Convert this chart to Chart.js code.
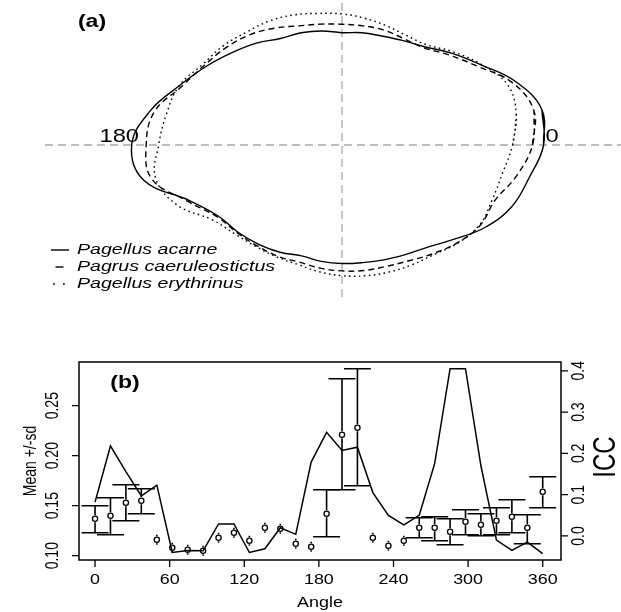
<!DOCTYPE html>
<html>
<head>
<meta charset="utf-8">
<script src="https://cdn.jsdelivr.net/npm/chart.js@4.4.1/dist/chart.umd.min.js"></script>
<style>
    html, body { margin: 0; padding: 0; background: #fff; width: 621px; height: 612px; overflow: hidden; }
    #painelA { position: absolute; left: 0; top: 0; width: 621px; height: 305px; }
    #painelB { position: absolute; left: 0; top: 305px; width: 621px; height: 307px; }
</style>
</head>
<body>
<div id="painelA"><canvas id="graficoContorno" width="621" height="305"></canvas></div>
<div id="painelB"><canvas id="graficoICC" width="621" height="307"></canvas></div>
<script>
// Painel (a) - contornos medios (raio por angulo)
const angulosContorno = [0, 10, 20, 30, 40, 50, 60, 70, 80, 90, 100, 110, 120, 130, 140, 150, 160, 170,
    180, 190, 200, 210, 220, 230, 240, 250, 260, 270, 280, 290, 300, 310, 320, 330, 340, 350];
const raioAcarne = [201.6, 203, 185, 160.4, 142.9, 128.3, 120.8, 116, 114, 112.3, 115.8, 119.4, 123, 132.9,
    143.6, 157, 173.2, 195, 210.3, 201.6, 162.4, 142.5, 135.7, 129.6, 123.8, 118, 118.2, 118.5, 119.4, 122.2,
    126.5, 133.4, 146.5, 165, 180.6, 189.9];
const raioCaeruleostictus = [190.5, 195, 181.6, 157, 140, 127, 123, 122.3, 121, 120.7, 122.7, 126.8, 134.9,
    143.8, 151.4, 159.1, 170.8, 190.6, 195.8, 193.4, 164.4, 144, 136.7, 131.8, 128.4, 124.7, 125, 125.9, 127.4,
    129.2, 133.7, 141.8, 151.5, 159.9, 162.6, 177.3];
const raioErythrinus = [170.6, 177, 176.2, 161, 145, 131, 127, 127.3, 128.8, 131, 133.6, 138.5, 143.5, 147.7,
    154.6, 161, 173.2, 178.3, 183.3, 189.3, 175.5, 149.7, 139, 133, 129.5, 127.4, 128.8, 130.7, 132.8, 135.4,
    138.6, 143, 152, 159.1, 159.9, 162.9];
const especies = ['Pagellus acarne', 'Pagrus caeruleostictus', 'Pagellus erythrinus'];

// Painel (b) - media +/- dp e ICC por angulo
const angulos = [0, 12.4, 24.8, 37.2, 49.7, 62.1, 74.5, 86.9, 99.3, 111.7, 124.1, 136.6, 149, 161.4, 173.8,
    186.2, 198.6, 211, 223.4, 235.9, 248.3, 260.7, 273.1, 285.5, 297.9, 310.3, 322.8, 335.2, 347.6, 360];
const media = [0.137, 0.140, 0.153, 0.155, 0.116, 0.108, 0.106, 0.105, 0.118, 0.123, 0.115, 0.128, 0.127,
    0.112, 0.109, 0.142, 0.221, 0.228, 0.118, 0.110, 0.115, 0.128, 0.128, 0.124, 0.134, 0.131, 0.135, 0.139,
    0.128, 0.164];
const limiteSup = [0.150, 0.158, 0.171, 0.167, 0.121, 0.113, 0.111, 0.110, 0.123, 0.128, 0.120, 0.133, 0.132,
    0.117, 0.114, 0.166, 0.277, 0.287, 0.123, 0.115, 0.120, 0.138, 0.139, 0.137, 0.146, 0.142, 0.148, 0.156,
    0.141, 0.179];
const limiteInf = [0.123, 0.121, 0.135, 0.142, 0.111, 0.103, 0.101, 0.100, 0.113, 0.118, 0.110, 0.123, 0.122,
    0.107, 0.104, 0.119, 0.166, 0.170, 0.113, 0.105, 0.110, 0.118, 0.115, 0.111, 0.121, 0.120, 0.121, 0.123,
    0.112, 0.148];
const icc = [0.082, 0.218, 0.156, 0.097, 0.123, -0.040, -0.035, -0.036, 0.029, 0.029, -0.040, -0.031, 0.020,
    0.004, 0.179, 0.251, 0.207, 0.215, 0.105, 0.050, 0.027, 0.050, 0.175, 0.405, 0.405, 0.170, -0.010, -0.035,
    -0.015, -0.043];
const ticksAngulo = [0, 60, 120, 180, 240, 300, 360];
const ticksMedia = [0.10, 0.15, 0.20, 0.25];
const ticksICC = [0.0, 0.1, 0.2, 0.3, 0.4];

const SX = 1.28; // esticamento horizontal do texto
const FONTE = '"Liberation Sans", Arial, sans-serif';

// Escrever texto (com rotacao opcional)
function escrever(ctx, texto, x, y, fonte, alinhamento, rotacao) {
    ctx.save();
    ctx.translate(x, y);
    ctx.scale(SX, 1);
    if (rotacao) ctx.rotate(rotacao);
    ctx.font = fonte;
    ctx.fillStyle = '#000';
    ctx.textAlign = alinhamento || 'center';
    ctx.textBaseline = 'middle';
    ctx.fillText(texto, 0, 0);
    ctx.restore();
}

function contorno(raios) {
    const pts = angulosContorno.map((a, i) => ({
        x: raios[i] * Math.cos(a * Math.PI / 180),
        y: raios[i] * Math.sin(a * Math.PI / 180)
    }));
    pts.push(pts[0], pts[1]);
    return pts;
}

const estilos = [
    { dash: [], legenda: [], x1: 51, x2: 69 },
    { dash: [6, 4], legenda: [8, 30], x1: 55.5, x2: 63.5 },
    { dash: [1.6, 3.4], legenda: [1.8, 8.2], x1: 53, x2: 66 }
];

// Plugin do painel (a)
const pluginContorno = {
    id: 'pluginContorno',
    beforeDatasetsDraw(chart) {
        const { ctx, scales: { x, y } } = chart;
        const x0 = x.getPixelForValue(0);
        const y0 = y.getPixelForValue(0);
        ctx.save();
        ctx.strokeStyle = '#a8a8a8';
        ctx.lineWidth = 1.3;
        ctx.setLineDash([8, 5]);
        ctx.beginPath();
        ctx.moveTo(x.getPixelForValue(-297), y0);
        ctx.lineTo(x.right, y0);
        ctx.moveTo(x0, y.getPixelForValue(142));
        ctx.lineTo(x0, y.getPixelForValue(-153));
        ctx.stroke();
        ctx.restore();
        escrever(ctx, '180', x.getPixelForValue(-203), y0 - 8, '18.5px ' + FONTE, 'right');
        escrever(ctx, '0', x.getPixelForValue(203.5), y0 - 8, '18.5px ' + FONTE, 'left');
    },
    afterDatasetsDraw(chart) {
        const ctx = chart.ctx;
        escrever(ctx, '(a)', 92, 22.5, 'bold 18px ' + FONTE, 'center');
        especies.forEach((nome, i) => {
            const yy = 250 + i * 17;
            const e = estilos[i];
            ctx.save();
            ctx.strokeStyle = '#000';
            ctx.lineWidth = 1.4;
            ctx.setLineDash(e.legenda);
            ctx.beginPath();
            ctx.moveTo(e.x1, yy);
            ctx.lineTo(e.x2, yy);
            ctx.stroke();
            ctx.restore();
            escrever(ctx, nome, 77, yy, 'italic 15.3px ' + FONTE, 'left');
        });
    }
};

// Plugin do painel (b): caixa, eixos, barras de erro
const pluginEixos = {
    id: 'pluginEixos',
    afterDatasetsDraw(chart) {
        const { ctx, chartArea: area, scales: { x, y, y2 } } = chart;
        ctx.save();
        ctx.strokeStyle = '#000';
        ctx.lineWidth = 1.6;
        // barras de erro
        const gap = 3.5;
        angulos.forEach((a, i) => {
            const px = x.getPixelForValue(a);
            const pm = y.getPixelForValue(media[i]);
            const ps = y.getPixelForValue(limiteSup[i]);
            const pi = y.getPixelForValue(limiteInf[i]);
            ctx.beginPath();
            if (pm - ps > gap) { ctx.moveTo(px, ps); ctx.lineTo(px, pm - gap); }
            if (pi - pm > gap) { ctx.moveTo(px, pm + gap); ctx.lineTo(px, pi); }
            if (limiteSup[i] - limiteInf[i] > 0.015) {
                ctx.moveTo(px - 13.5, ps); ctx.lineTo(px + 13.5, ps);
                ctx.moveTo(px - 13.5, pi); ctx.lineTo(px + 13.5, pi);
            }
            ctx.stroke();
        });
        // caixa
        ctx.lineWidth = 1.5;
        ctx.strokeRect(area.left, area.top, area.right - area.left, area.bottom - area.top);
        // marcas
        ctx.lineWidth = 1.3;
        ctx.beginPath();
        ticksAngulo.forEach(t => {
            const p = x.getPixelForValue(t);
            ctx.moveTo(p, area.bottom); ctx.lineTo(p, area.bottom + 7);
        });
        ticksMedia.forEach(t => {
            const p = y.getPixelForValue(t);
            ctx.moveTo(area.left, p); ctx.lineTo(area.left - 7, p);
        });
        ticksICC.forEach(t => {
            const p = y2.getPixelForValue(t);
            ctx.moveTo(area.right, p); ctx.lineTo(area.right + 7, p);
        });
        ctx.stroke();
        ctx.restore();

        const f = '14px ' + FONTE;
        ticksAngulo.forEach(t => escrever(ctx, String(t), x.getPixelForValue(t), area.bottom + 20, f));
        ticksMedia.forEach(t => escrever(ctx, t.toFixed(2), area.left - 26, y.getPixelForValue(t), f, 'center', -Math.PI / 2));
        ticksICC.forEach(t => escrever(ctx, t.toFixed(1), area.right + 18, y2.getPixelForValue(t), f, 'center', -Math.PI / 2));
        escrever(ctx, 'Angle', (area.left + area.right) / 2, area.bottom + 43, f);
        escrever(ctx, 'Mean +/-sd', 31, (area.top + area.bottom) / 2, f, 'center', -Math.PI / 2);
        escrever(ctx, 'ICC', 607, (area.top + area.bottom) / 2 - 4, '24px ' + FONTE, 'center', -Math.PI / 2);
        escrever(ctx, '(b)', 125, area.top + 21, 'bold 18px ' + FONTE, 'center');
    }
};

function criarGraficoContorno() {
    const ctx = document.getElementById('graficoContorno').getContext('2d');
    const raios = [raioAcarne, raioCaeruleostictus, raioErythrinus];
    new Chart(ctx, {
        type: 'scatter',
        data: {
            datasets: raios.map((r, i) => ({
                label: especies[i],
                data: contorno(r),
                showLine: true,
                borderColor: '#000',
                borderWidth: 1.4,
                borderDash: estilos[i].dash,
                pointRadius: 0,
                tension: 0.4,
                fill: false
            }))
        },
        options: {
            responsive: false,
            animation: false,
            devicePixelRatio: 1,
            layout: { padding: 0 },
            plugins: { legend: { display: false }, tooltip: { enabled: false } },
            scales: {
                x: { type: 'linear', min: -342, max: 279, display: false },
                y: { type: 'linear', min: -160, max: 145, display: false }
            }
        },
        plugins: [pluginContorno]
    });
}

function criarGraficoICC() {
    const ctx = document.getElementById('graficoICC').getContext('2d');
    new Chart(ctx, {
        type: 'scatter',
        data: {
            datasets: [
                {
                    label: 'ICC',
                    data: angulos.map((a, i) => ({ x: a, y: icc[i] })),
                    yAxisID: 'y2',
                    showLine: true,
                    borderColor: '#000',
                    borderWidth: 1.5,
                    pointRadius: 0,
                    tension: 0
                },
                {
                    label: 'Mean',
                    data: angulos.map((a, i) => ({ x: a, y: media[i] })),
                    yAxisID: 'y',
                    pointStyle: 'circle',
                    pointRadius: 2.6,
                    borderWidth: 1.3,
                    borderColor: '#000',
                    backgroundColor: 'rgba(0,0,0,0)'
                }
            ]
        },
        options: {
            responsive: false,
            animation: false,
            devicePixelRatio: 1,
            layout: { padding: { left: 79, right: 60, top: 57, bottom: 52 } },
            plugins: { legend: { display: false }, tooltip: { enabled: false } },
            scales: {
                x: { type: 'linear', min: -12.9, max: 374.7, display: false },
                y: { type: 'linear', position: 'left', min: 0.0957, max: 0.2937, display: false },
                y2: { type: 'linear', position: 'right', min: -0.0582, max: 0.4213, display: false }
            }
        },
        plugins: [pluginEixos]
    });
}

// Inicializar
criarGraficoContorno();
criarGraficoICC();
</script>
</body>
</html>
